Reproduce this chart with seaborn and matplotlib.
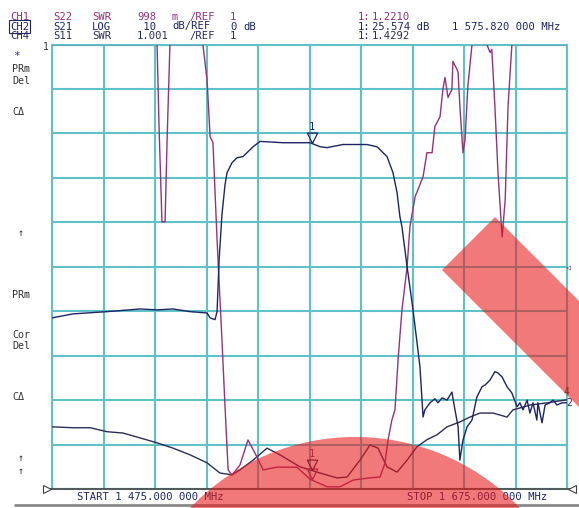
import numpy as np
import pandas as pd
import matplotlib
matplotlib.use("Agg")
import matplotlib.pyplot as plt
import matplotlib.transforms as mtransforms
from matplotlib.patches import Polygon, Circle
import seaborn as sns

W, H = 579, 508

# sweep and marker readouts
f_start, f_stop = 1475.0, 1675.0
marker_freq = 1575.82
marker_s22 = 1.2210
marker_s21 = 25.574
marker_s11 = 1.4292

# CH2  S21  LOG  (dB)
s21_freq = [1475.0, 1483.2, 1496.4, 1509.2, 1515.8, 1522.0, 1528.6, 1535.2, 1536.4, 1538.3,
            1539.1, 1539.9, 1541.0, 1542.2, 1543.0, 1544.9, 1546.8, 1549.2, 1553.1, 1555.8,
            1564.7, 1575.2, 1579.1, 1581.8, 1588.0, 1597.3, 1601.2, 1605.1, 1607.4, 1609.0,
            1610.1, 1610.9, 1612.9, 1615.2, 1617.9, 1619.1, 1619.8, 1621.8, 1623.7, 1624.9,
            1626.5, 1628.4, 1630.3, 1631.5, 1632.7, 1633.4, 1634.6, 1636.2, 1638.1, 1640.0,
            1642.0, 1643.2, 1645.1, 1647.0, 1648.2, 1649.8, 1651.7, 1653.6, 1655.6, 1656.7,
            1657.9, 1659.5, 1660.6, 1661.8, 1663.3, 1663.7, 1665.3, 1666.5, 1668.4, 1669.6,
            1671.1, 1673.1, 1675.0]
s21_db = [-13.7, -12.8, -12.3, -11.7, -11.9, -11.7, -12.3, -12.6, -13.7, -14.1,
          -12.3, -0.6, 9.5, 16.3, 19.0, 21.2, 22.3, 22.6, 24.8, 26.0,
          25.7, 25.7, 24.8, 24.6, 25.3, 25.3, 24.8, 22.6, 19.0, 14.5,
          9.1, 6.8, -2.2, -11.9, -24.7, -36.0, -34.4, -32.8, -31.9, -32.8,
          -31.7, -32.2, -30.4, -34.4, -38.2, -45.7, -41.2, -38.2, -36.7, -31.5,
          -29.2, -28.8, -27.7, -25.8, -26.1, -27.0, -29.2, -30.6, -33.7, -32.8,
          -34.4, -32.2, -35.1, -32.8, -36.7, -32.8, -37.3, -33.3, -32.8, -32.2,
          -33.3, -32.8, -32.8]

# CH1  S22  SWR
s22_freq = [1475.0, 1515.8, 1516.6, 1517.7, 1518.9, 1519.7, 1520.8, 1533.6, 1535.2, 1536.4,
            1537.5, 1539.1, 1541.0, 1542.2, 1543.4, 1544.9, 1548.0, 1551.1, 1553.8, 1557.0,
            1562.4, 1570.1, 1575.2, 1581.8, 1586.8, 1591.9, 1598.5, 1602.4, 1604.3, 1605.5,
            1607.0, 1608.2, 1609.4, 1610.9, 1612.9, 1614.0, 1616.0, 1619.1, 1620.6, 1622.6,
            1623.7, 1625.7, 1626.8, 1627.6, 1628.8, 1630.3, 1630.7, 1632.3, 1632.7, 1633.4,
            1634.6, 1635.4, 1636.5, 1638.1, 1643.9, 1645.1, 1645.8, 1647.0, 1648.2, 1649.8,
            1651.0, 1652.1, 1653.6, 1675.0]
s22_swr = [11.0, 11.0, 9.07, 7.0, 7.0, 8.84, 11.0, 11.0, 10.19, 8.91,
           8.78, 6.60, 4.35, 2.84, 1.43, 1.31, 1.54, 2.10, 1.81, 1.43,
           1.49, 1.49, 1.22, 1.05, 1.05, 1.20, 1.25, 1.27, 1.58, 2.10,
           2.55, 2.78, 3.90, 5.02, 5.99, 6.89, 7.56, 8.01, 8.55, 8.55,
           9.14, 9.36, 9.97, 10.24, 9.79, 9.97, 10.60, 10.42, 10.35, 9.59,
           8.55, 8.84, 10.04, 11.0, 11.0, 10.80, 10.87, 9.59, 8.10, 6.66,
           7.50, 9.59, 11.0, 11.0]

# CH4  S11  SWR
s11_freq = [1475.0, 1483.2, 1489.8, 1496.4, 1502.6, 1509.2, 1515.8, 1522.0, 1528.6, 1535.2,
            1540.2, 1544.9, 1548.0, 1553.1, 1558.5, 1563.5, 1571.3, 1575.2, 1579.1, 1585.7,
            1589.6, 1594.6, 1598.5, 1601.6, 1605.1, 1609.0, 1612.9, 1616.7, 1620.6, 1624.5,
            1628.4, 1633.4, 1637.3, 1641.2, 1646.3, 1651.7, 1654.0, 1660.6, 1667.2, 1675.0]
s11_swr = [2.40, 2.38, 2.38, 2.29, 2.26, 2.15, 2.04, 1.92, 1.77, 1.59,
           1.36, 1.32, 1.43, 1.65, 1.92, 1.77, 1.50, 1.43, 1.36, 1.25,
           1.27, 1.65, 1.99, 1.92, 1.50, 1.38, 1.65, 1.95, 2.11, 2.22,
           2.40, 2.51, 2.62, 2.71, 2.71, 2.62, 2.78, 2.89, 2.94, 3.01]

# screen scaling (grid divisions, 0 = bottom, 10 = top)
def swr_div(v, per_div):
    return np.clip((np.asarray(v) - 1.0) / per_div, 0, 10)

def db_div(v, ref_pos=5.22):
    return np.clip(ref_pos + np.asarray(v) / 10.0, 0, 10)

c_s22 = '#94327c'
c_s21 = '#1d2466'
c_s11 = '#2c2c58'
c_grid = '#5ec3c8'
c_text = '#1a1a2e'

sns.set_style("white")
plt.rcParams['font.family'] = ['DejaVu Sans Mono', 'DejaVu Sans']

fig = plt.figure(figsize=(W / 100, H / 100), dpi=100)
ax = fig.add_axes([52 / W, 1 - 489 / H, (567 - 52) / W, (489 - 44.5) / H])

df21 = pd.DataFrame({'f': s21_freq, 'y': db_div(s21_db)})
df22 = pd.DataFrame({'f': s22_freq, 'y': swr_div(s22_swr, 0.998)})
df11 = pd.DataFrame({'f': s11_freq, 'y': swr_div(s11_swr, 1.001)})

sns.lineplot(data=df11, x='f', y='y', ax=ax, color=c_s11, lw=1.0, estimator=None, sort=False, zorder=3)
sns.lineplot(data=df22, x='f', y='y', ax=ax, color=c_s22, lw=1.0, estimator=None, sort=False, zorder=4)
sns.lineplot(data=df21, x='f', y='y', ax=ax, color=c_s21, lw=1.0, estimator=None, sort=False, zorder=5)

ax.set_xlim(f_start, f_stop)
ax.set_ylim(0, 10)
ax.set_xticks(np.linspace(f_start, f_stop, 11))
ax.set_yticks(np.arange(0, 11))
ax.grid(True, color=c_grid, lw=1.5)
ax.tick_params(length=0, labelbottom=False, labelleft=False)
ax.set_xlabel('')
ax.set_ylabel('')
for sp in ax.spines.values():
    sp.set_color(c_grid)
    sp.set_linewidth(1.5)

# reference line at the bottom with end arrows
ax.plot([-0.01, 1.01], [0, 0], transform=ax.transAxes, color='#505050', lw=1.3, clip_on=False, zorder=6)
ax.plot([-0.01], [0], transform=ax.transAxes, marker='>', ms=6, mfc='white', mec='#404040', mew=0.8, clip_on=False, zorder=7)
ax.plot([1.01], [0], transform=ax.transAxes, marker='<', ms=6, mfc='white', mec='#404040', mew=0.8, clip_on=False, zorder=7)

# markers (tip on the trace)
tri = [(-0.5, 1.0), (0.5, 1.0), (0.0, 0.0), (-0.5, 1.0)]
m21 = float(db_div(marker_s21))
m22 = float(swr_div(marker_s22, 0.998))
m11 = float(swr_div(marker_s11, 1.001))
for yv, col in [(m21, c_s21), (m22, c_s22), (m11, c_s11)]:
    ax.plot([marker_freq], [yv], marker=tri, ms=15, mfc='none', mec=col, mew=0.9, zorder=8, clip_on=False)
for yv, col in [(m21, c_s21), (max(m22, m11), c_s22)]:
    ax.annotate('1', (marker_freq, yv), xytext=(0, 11), textcoords='offset pixels',
                ha='center', va='bottom', fontsize=7.5, color=col, zorder=8)

# texts in image pixel coordinates
px = mtransforms.Affine2D().scale(1, -1).translate(0, H)

def put(x, y, s, color=c_text, size=7.6, **kw):
    fig.text(x, y, s, transform=px, color=color, fontsize=size, va='center', ha='left', **kw)

rows = [
    (17, c_s22, ['CH1', 'S22', 'SWR', '998', 'm', '/REF', '1', ''], '1.2210'),
    (26.5, c_s21, ['CH2', 'S21', 'LOG', ' 10', 'dB/REF', '', '0', 'dB'], '25.574 dB'),
    (36, c_s11, ['CH4', 'S11', 'SWR', '1.001', '', '/REF', '1', ''], '1.4292'),
]
xpos = [10, 53, 92, 137, 172, 189, 230, 243]
for y, col, toks, val in rows:
    for x, t in zip(xpos, toks):
        if not t:
            continue
        if t == 'CH2':
            put(x, y, t, col, bbox=dict(boxstyle='square,pad=0.12', fc='none', ec=col, lw=0.8))
        else:
            put(x, y, t, col)
    put(358, y, '1:', col)
    put(372, y, val, col)
put(452, 26.5, '1 575.820 000 MHz', c_s21)

put(77, 497, 'START 1 475.000 000 MHz', c_s21)
put(407, 497, 'STOP 1 675.000 000 MHz', c_s21)

put(43, 47, '1', '#303030', size=7)
put(13, 56, '*', '#2a3a9a', size=8)
for y, s in [(69, 'PRm'), (81, 'Del'), (112, 'CΔ'), (295, 'PRm'), (335, 'Cor'), (346, 'Del'), (397, 'CΔ')]:
    put(12, y, s, '#303030', size=7.2)
for y in [233, 458, 471]:
    put(18, y, '↑', '#303030', size=7.2)
put(566, 267, '◁', '#303030', size=6)
put(563, 392, '4', '#303030', size=7)
put(566, 403, '2', '#303030', size=7)

# bottom rule
fig.add_artist(plt.Line2D([15, W], [505, 505], transform=px, color='#8a8a8a', lw=2))

# red overlays
band = Polygon([(495, 217), (442, 270), (742, 570), (795, 517)], closed=True,
               transform=px, fc='#e81818', ec='none', alpha=0.58, zorder=20)
fig.add_artist(band)
disc = Circle((355, 664), 227, transform=px, fc='#e81818', ec='none', alpha=0.58, zorder=20)
fig.add_artist(disc)

fig.savefig('out.png', dpi=100)
